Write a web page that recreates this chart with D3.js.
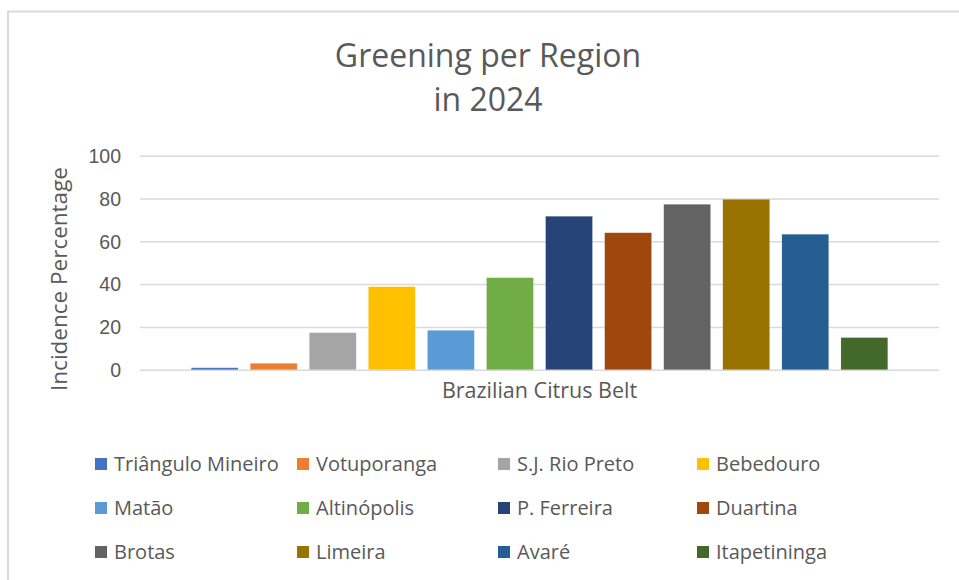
<!DOCTYPE html>
<html>
  <head>
    <meta http-equiv="Content-Type" content="text/html;charset=utf-8" />
    <title>Greening per Region</title>
    <style>
      body {
        margin: 0;
        background: #fff;
        font-family: "Open Sans", "Noto Sans", sans-serif;
      }
      .grid line {
        stroke: #d9d9d9;
        stroke-width: 1.5px;
      }
      .grid path {
        display: none;
      }
      .axis text {
        fill: #595959;
        font-size: 19.5px;
      }
      .legend text {
        fill: #595959;
        font-size: 20px;
      }
    </style>
    <script src="https://d3js.org/d3.v7.min.js"></script>
  </head>
  <body>
    <div id="chart"></div>
    <script type="text/javascript">
      const width = 959,
        height = 580;

      // one category, 12 series (one per region)
      const category = "Brazilian Citrus Belt";
      const regions = [
        "Triângulo Mineiro",
        "Votuporanga",
        "S.J. Rio Preto",
        "Bebedouro",
        "Matão",
        "Altinópolis",
        "P. Ferreira",
        "Duartina",
        "Brotas",
        "Limeira",
        "Avaré",
        "Itapetininga",
      ];
      const incidence = [0.9, 3.0, 17.3, 38.8, 18.4, 43.0, 71.7, 64.0, 77.3, 79.6, 63.3, 15.0];
      const colors = [
        "#4472C4", "#ED7D31", "#A5A5A5", "#FFC000", "#5B9BD5", "#70AD47",
        "#264478", "#9E480E", "#636363", "#997300", "#255E91", "#43682B",
      ];
      const yTicks = [0, 20, 40, 60, 80, 100];

      const plot = { left: 140, right: 939, top: 155.7, bottom: 369.7 };

      const svg = d3
        .select("#chart")
        .append("svg")
        .attr("width", width)
        .attr("height", height);

      // chart border (Excel chart area)
      svg
        .append("path")
        .attr("d", "M8," + height + "V11.5H" + width)
        .style("fill", "none")
        .style("stroke", "#d9d9d9")
        .style("stroke-width", 2);

      // title
      const title = svg
        .append("text")
        .attr("x", 488)
        .attr("text-anchor", "middle")
        .style("fill", "#595959")
        .style("font-size", "32px");
      title.append("tspan").attr("x", 488).attr("y", 67).text("Greening per Region");
      title.append("tspan").attr("x", 488).attr("y", 111).text("in 2024");

      const y = d3.scaleLinear().domain([0, 100]).range([plot.bottom, plot.top]);

      const x0 = d3
        .scaleBand()
        .domain([category])
        .range([plot.left, plot.right])
        .paddingOuter(0.064);

      const x1 = d3
        .scaleBand()
        .domain(regions)
        .range([0, x0.bandwidth()])
        .paddingInner(0.207)
        .paddingOuter(0.1);

      // gridlines
      svg
        .append("g")
        .attr("class", "grid")
        .attr("transform", "translate(" + plot.left + ",0)")
        .call(
          d3
            .axisLeft(y)
            .tickValues(yTicks)
            .tickSize(-(plot.right - plot.left))
            .tickFormat("")
        );

      // y tick labels
      const yAxis = svg
        .append("g")
        .attr("class", "axis")
        .attr("transform", "translate(" + (plot.left - 16) + ",0)")
        .call(d3.axisLeft(y).tickValues(yTicks).tickSize(0));
      yAxis.select(".domain").remove();
      yAxis.selectAll("text").attr("dy", "0.35em");

      // bars
      svg
        .append("g")
        .selectAll("rect")
        .data(incidence)
        .enter()
        .append("rect")
        .attr("x", function (d, i) {
          return x0(category) + x1(regions[i]);
        })
        .attr("y", function (d) {
          return y(d);
        })
        .attr("width", x1.bandwidth())
        .attr("height", function (d) {
          return y(0) - y(d);
        })
        .style("fill", function (d, i) {
          return colors[i];
        })
        .style("stroke", "#ffffff")
        .style("stroke-opacity", 0.3)
        .style("stroke-width", 0.5);

      // x category label
      svg
        .append("text")
        .attr("x", x0(category) + x0.bandwidth() / 2)
        .attr("y", 398)
        .attr("text-anchor", "middle")
        .style("fill", "#595959")
        .style("font-size", "21.5px")
        .text(category);

      // y axis title
      svg
        .append("text")
        .attr("transform", "translate(67,279) rotate(-90)")
        .attr("text-anchor", "middle")
        .style("fill", "#595959")
        .style("font-size", "22.5px")
        .text("Incidence Percentage");

      // legend, 4 columns x 3 rows
      const legendCols = [95, 297, 498, 697],
        legendRows = [464, 508, 552];
      const legend = svg
        .append("g")
        .attr("class", "legend")
        .selectAll("g")
        .data(regions)
        .enter()
        .append("g")
        .attr("transform", function (d, i) {
          return "translate(" + legendCols[i % 4] + "," + legendRows[Math.floor(i / 4)] + ")";
        });
      legend
        .append("rect")
        .attr("x", 0)
        .attr("y", -6)
        .attr("width", 12)
        .attr("height", 12)
        .style("fill", function (d, i) {
          return colors[i];
        });
      legend
        .append("text")
        .attr("x", 19)
        .attr("dy", "0.35em")
        .text(function (d) {
          return d;
        });
    </script>
  </body>
</html>
